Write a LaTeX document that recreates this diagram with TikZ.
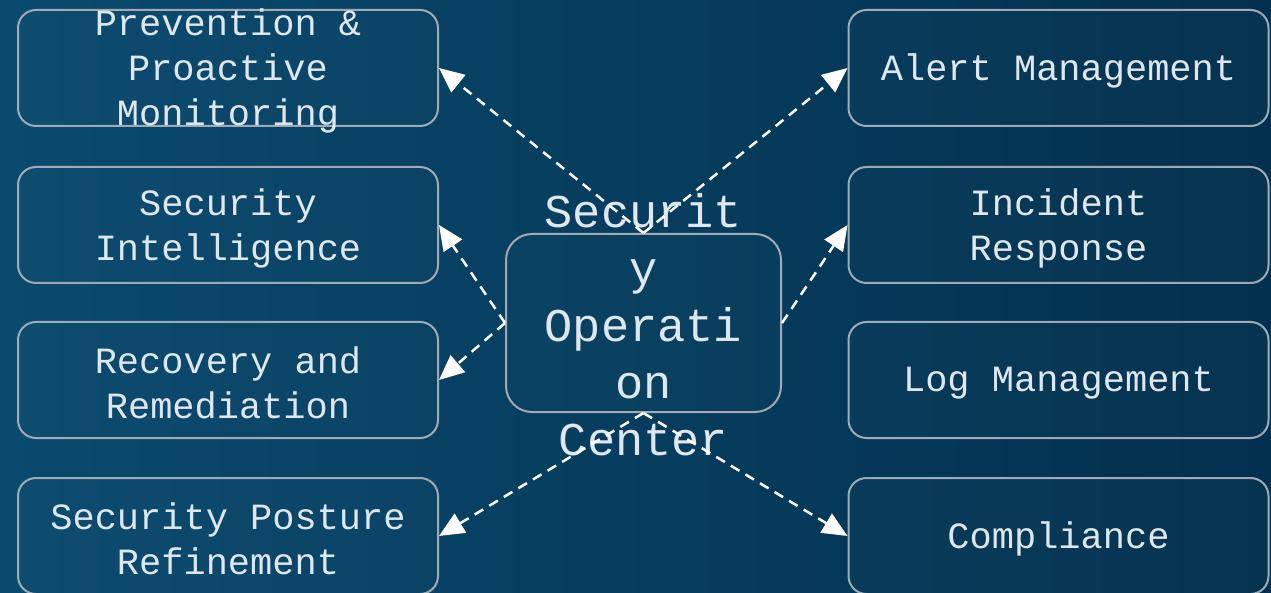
\documentclass[tikz,border=0pt]{standalone}
\usepackage{fontspec}
\setmonofont{Liberation Mono}
\definecolor{FondoIzq}{RGB}{10,74,110}
\definecolor{FondoDer}{RGB}{3,48,78}
\definecolor{BordeCaja}{RGB}{160,170,180}
\definecolor{TextoCaja}{RGB}{222,230,238}
\colorlet{FlechaColor}{white}
\usetikzlibrary{calc, arrows.meta, positioning}
\tikzset{
    caja/.style={
        draw=BordeCaja, line width=2pt, rounded corners=18pt,
        fill=white, fill opacity=0.015,
        minimum width=420pt, minimum height=116pt, inner sep=0pt
    },
    textocaja/.style={
        text=TextoCaja, align=center, inner sep=0pt, yshift=-3pt,
        font=\ttfamily\fontsize{37}{45}\selectfont
    },
    flujo/.style={
        draw=FlechaColor, line width=2.5pt, dash pattern=on 10pt off 7pt,
        -{Triangle[length=25pt, width=22pt]}
    }
}

\begin{document}
\begin{tikzpicture}[x=1pt, y=-1pt]

    \useasboundingbox (0,0) rectangle (1271,593);
    \fill[left color=FondoIzq, right color=FondoDer] (0,0) rectangle (1271,593);

    % Puntos del fondo
    \foreach \r in {620,650,680,710,740} {
        \draw[white, opacity=0.07, line width=2.5pt, line cap=round,
              dash pattern=on 0pt off 12pt]
            (900,-250) ++(200:\r) arc[start angle=200, end angle=265, radius=\r];
    }

    % Cajas de la izquierda
    \node[caja] (prev) at (228,68) {};
    \node[caja] (intel) at (228,225) {};
    \node[caja] (recov) at (228,380) {};
    \node[caja] (postura) at (228,536) {};

    % Cajas de la derecha
    \node[caja] (alerta) at (1058.5,68) {};
    \node[caja] (incid) at (1058.5,225) {};
    \node[caja] (logs) at (1058.5,380) {};
    \node[caja] (cumpl) at (1058.5,536) {};

    \node[textocaja] at (prev) {Prevention \&\\Proactive\\Monitoring};
    \node[textocaja] at (intel) {Security\\Intelligence};
    \node[textocaja] at (recov) {Recovery and\\Remediation};
    \node[textocaja] at (postura) {Security Posture\\Refinement};
    \node[textocaja] at (alerta) {Alert Management};
    \node[textocaja] at (incid) {Incident\\Response};
    \node[textocaja] at (logs) {Log Management};
    \node[textocaja] at (cumpl) {Compliance};

    % Caja central
    \node[caja, rounded corners=26pt, minimum width=275pt, minimum height=178pt]
        (soc) at (643.5,323) {};
    \node[textocaja, yshift=1pt, font=\ttfamily\fontsize{47}{57}\selectfont] at (soc)
        {Securit\\y\\Operati\\on\\Center};

    % Flechas
    \draw[flujo] (soc.north) -- (prev.east);
    \draw[flujo] (soc.north) -- (alerta.west);
    \draw[flujo] (soc.west) -- (intel.east);
    \draw[flujo] (soc.west) -- (recov.east);
    \draw[flujo] (soc.east) -- (incid.west);
    \draw[flujo] (soc.south) -- (postura.east);
    \draw[flujo] (soc.south) -- (cumpl.west);

\end{tikzpicture}
\end{document}
